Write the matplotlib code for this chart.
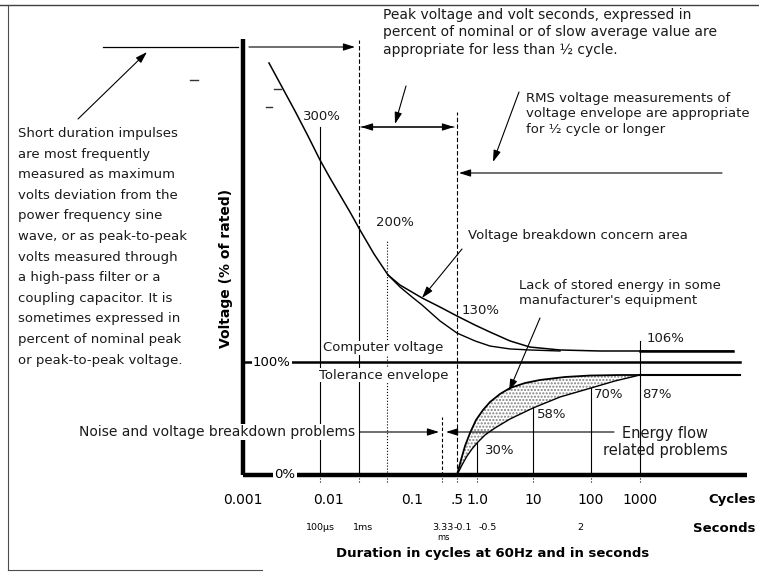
import numpy as np
import matplotlib
matplotlib.use('Agg')
import matplotlib.pyplot as plt

# ---------------- data (duration in cycles, voltage in % of rated) ----------------
cycle_ticks = [0.001, 0.01, 0.1, 0.5, 1, 10, 100, 1000]
cycle_labels = ['0.001', '0.01', '0.1', '.5', '1.0', '10', '100', '1000']
second_labels = ['100µs', '1ms', '3.33', '-0.1', '-0.5', '2']

# over-voltage curve (common part), then its two branches
over_x = [0.002022, 0.002876, 0.004090, 0.005816, 0.008049, 0.010564, 0.013895,
          0.018273, 0.024044, 0.035277, 0.051795]
over_y = [461.7, 421.7, 381.7, 340, 300, 274.3, 250, 225.7, 200, 180.5, 163.4]
over_hi_x = [0.051795, 0.071969, 0.14294, 0.27218, 0.5, 0.93303, 1.7066, 3.8855,
             8.8402, 29.212, 152.68, 1000, 36250]
over_hi_y = [163.4, 155.2, 144.7, 137.3, 130, 123.8, 119.0, 112.9, 108.7, 106.7,
             106, 106, 106]
over_lo_x = [0.051795, 0.071969, 0.1, 0.14294, 0.27218, 0.5, 0.93303, 1.7066,
             3.8855, 8.8402, 29.212]
over_lo_y = [163.4, 153.6, 145.5, 139.0, 126.6, 118.3, 112.9, 109.4, 107.4, 106.7, 106]

# under-voltage (energy) curves
under_hi_x = [0.5, 0.57434, 0.65975, 0.78464, 0.96593, 1.2799, 1.7066, 2.5750,
              3.8855, 7.1969, 13.204, 35.622, 96.108, 390.8, 1000]
under_hi_y = [0, 14.1, 27.2, 38, 48.4, 56.4, 61.6, 66.4, 70, 76.5, 80.5, 84.4,
              86.3, 87, 87]
under_lo_x = [0.5, 0.59462, 0.70711, 0.84090, 1, 1.3895, 2.0961, 3.8855, 10,
              29.212, 100, 308.9, 1000]
under_lo_y = [0, 9.4, 17.8, 24.4, 30, 36.4, 42, 49.2, 58, 64.6, 70, 79.2, 87]

# reference levels
nominal_pct = 100
upper_pct = 106
lower_pct = 87

# vertical marker lines: duration (cycles) and top (%)
marker_x = [0.008, 0.0234, 0.0504, 0.292, 0.5, 1, 10, 100, 1000]
marker_top = [355, 500, 191, 51, 380, 30, 58, 70, 113]

pct_labels = ['300%', '200%', '130%', '106%', '87%', '70%', '58%', '30%']

# ---------------- layout ----------------
W, H = 759, 572
fig = plt.figure(figsize=(W / 100, H / 100), dpi=100)
fig.patch.set_facecolor('white')
ax = fig.add_axes([0, 0, 1, 1])

# schematic (not-to-scale) axis mapping used by the original figure
X_LOG = np.array([-6, -3, -2, -1, np.log10(0.5), 0, 1, 2, 3, 4, 5])
X_PX = np.array([0, 243, 328, 412, 457, 477, 533, 591, 640, 700, 759], float)
Y_PCT = np.array([-100, 0, 30, 58, 70, 87, 100, 106, 130, 200, 300, 500, 700], float)
Y_PX = np.array([572, 475, 443, 408, 388, 375, 362, 351, 316, 230, 160, 40, 0], float)


def x_fwd(v):
    v = np.asarray(v, float)
    return np.interp(np.log10(np.clip(v, 1e-12, None)), X_LOG, X_PX)


def x_inv(p):
    return 10 ** np.interp(np.asarray(p, float), X_PX, X_LOG)


def y_fwd(v):
    return H - np.interp(np.asarray(v, float), Y_PCT, Y_PX)


def y_inv(p):
    return np.interp(H - np.asarray(p, float), Y_PX[::-1], Y_PCT[::-1])


ax.set_xscale('function', functions=(x_fwd, x_inv))
ax.set_yscale('function', functions=(y_fwd, y_inv))
ax.set_xlim(1e-6, 1e5)
ax.set_ylim(-100, 700)
ax.axis('off')

K = 'black'
# hatched "lack of stored energy" band
ax.fill(np.r_[under_hi_x, under_lo_x[::-1]], np.r_[under_hi_y, under_lo_y[::-1]],
        facecolor='none', edgecolor='0.5', hatch='.....', lw=0)

# vertical markers
styles = ['-', '-', ':', (0, (3, 2)), (0, (4, 2)), '-', '-', '-', '-']
for xv, top, st in zip(marker_x, marker_top, styles):
    if xv == 0.0234:
        ax.plot([xv, xv], [200, top], color=K, lw=0.8, ls=(0, (4, 2)))
        ax.plot([xv, xv], [0, 200], color=K, lw=0.8)
    else:
        ax.plot([xv, xv], [0, top], color=K, lw=0.8, ls=st)
    ax.plot([xv, xv], [0, -8], color=K, lw=0.8, ls=':')

# curves
ax.plot(over_x, over_y, color=K, lw=1.1)
ax.plot(over_hi_x, over_hi_y, color=K, lw=1.1)
ax.plot([1000, 36250], [upper_pct, upper_pct], color=K, lw=1.8)
ax.plot(over_lo_x, over_lo_y, color=K, lw=1.0)
ax.plot(under_hi_x, under_hi_y, color=K, lw=1.3)
ax.plot(under_lo_x, under_lo_y, color=K, lw=1.0)
ax.plot([1000, 47700], [lower_pct, lower_pct], color=K, lw=1.5)
ax.plot([0.001, 47700], [nominal_pct, nominal_pct], color=K, lw=1.8)
ax.plot([0.001, 62700], [0, 0], color=K, lw=3.2, solid_capstyle='butt')
ax.plot([0.001, 0.001], [0, 505], color=K, lw=3.2, solid_capstyle='butt')

# cycle tick labels
for c, lab in zip(cycle_ticks, cycle_labels):
    ax.text(c, -26, lab, ha='center', va='center', fontsize=10)

# ---------------- overlay in pixel space for annotations ----------------
ov = fig.add_axes([0, 0, 1, 1])
ov.set_xlim(0, W)
ov.set_ylim(H, 0)
ov.axis('off')
ov.patch.set_alpha(0)

FS = 9.5
TC = '0.1'
WB = dict(facecolor='white', edgecolor='none', pad=1.0)
AP = dict(arrowstyle='-|>,head_length=0.7,head_width=0.22', color=K, lw=0.8,
          shrinkA=0, shrinkB=0)

# frame
ov.plot([0, W], [5, 5], color='0.25', lw=1.0)
ov.plot([8, 8], [5, 570], color='0.3', lw=0.8)
ov.plot([8, 262], [570, 570], color='0.3', lw=0.8)

# small stray marks of the original print
for (x0, x1, yy) in [(190, 198, 80), (274, 281, 89), (266, 272, 107)]:
    ov.plot([x0, x1], [yy, yy], color='0.2', lw=1.0)

ov.text(18, 127, 'Short duration impulses\nare most frequently\nmeasured as maximum\n'
        'volts deviation from the\npower frequency sine\nwave, or as peak-to-peak\n'
        'volts measured through\na high-pass filter or a\ncoupling capacitor. It is\n'
        'sometimes expressed in\npercent of nominal peak\nor peak-to-peak voltage.',
        fontsize=FS, va='top', ha='left', linespacing=1.76, color=TC)

ov.text(383, 8, 'Peak voltage and volt seconds, expressed in\n'
        'percent of nominal or of slow average value are\n'
        'appropriate for less than ½ cycle.',
        fontsize=10.0, va='top', ha='left', linespacing=1.3, color=TC)

ov.text(526, 92, 'RMS voltage measurements of\nvoltage envelope are appropriate\n'
        'for ½ cycle or longer', fontsize=FS, va='top', ha='left',
        linespacing=1.25, color=TC)

ov.text(468, 236, 'Voltage breakdown concern area', fontsize=FS, va='center',
        ha='left', color=TC)
ov.text(519, 279, "Lack of stored energy in some\nmanufacturer's equipment",
        fontsize=FS, va='top', ha='left', linespacing=1.2, color=TC)
ov.text(355, 432, 'Noise and voltage breakdown problems', fontsize=10,
        va='center', ha='right', color=TC, bbox=WB)
ov.text(665, 442, 'Energy flow\nrelated problems', fontsize=10.5, va='center',
        ha='center', linespacing=1.15, color=TC)
ov.text(383, 348, 'Computer voltage', fontsize=FS, va='center', ha='center',
        color=TC, bbox=dict(facecolor='white', edgecolor='none', pad=0.5))
ov.text(384, 375, 'Tolerance envelope', fontsize=FS, va='center', ha='center',
        color=TC, bbox=dict(facecolor='white', edgecolor='none', pad=0.5))
ov.text(272, 362, '100%', fontsize=FS, va='center', ha='center', bbox=WB)
ov.text(285, 475, '0%', fontsize=FS, va='center', ha='center', bbox=WB)

pct_pos = [(322, 116), (395, 222), (481, 311), (665, 339), (657, 394),
           (609, 395), (552, 415), (500, 450)]
for lab, (px_, py_) in zip(pct_labels, pct_pos):
    ov.text(px_, py_, lab, fontsize=FS, ha='center', va='center', color=TC)

ov.text(226, 268, 'Voltage (% of rated)', rotation=90, fontsize=10,
        fontweight='bold', ha='center', va='center')
ov.text(756, 500, 'Cycles', fontsize=9.5, fontweight='bold', ha='right', va='center')
ov.text(756, 528, 'Seconds', fontsize=9.5, fontweight='bold', ha='right', va='center')
ov.text(493, 553, 'Duration in cycles at 60Hz and in seconds', fontsize=9.5,
        fontweight='bold', ha='center', va='center')

sec_pos = [320, 363, 443, 463, 488, 580]
for lab, sx in zip(second_labels, sec_pos):
    ov.text(sx, 527, lab, fontsize=6.8, ha='center', va='center')
ov.text(444, 537, 'ms', fontsize=6, ha='center', va='center')

# arrows
ov.plot([103, 238], [47, 47], color=K, lw=0.9)
ov.annotate('', xy=(355, 47), xytext=(249, 47), arrowprops=AP)
ov.annotate('', xy=(147, 52), xytext=(78, 119), arrowprops=AP)
ov.annotate('', xy=(361, 127), xytext=(454, 127), arrowprops=AP)
ov.annotate('', xy=(454, 127), xytext=(361, 127), arrowprops=AP)
ov.annotate('', xy=(395, 124), xytext=(406, 86), arrowprops=AP)
ov.annotate('', xy=(459, 173), xytext=(722, 173), arrowprops=AP)
ov.annotate('', xy=(493, 162), xytext=(519, 92), arrowprops=AP)
ov.annotate('', xy=(422, 298), xytext=(462, 249), arrowprops=AP)
ov.annotate('', xy=(509, 391), xytext=(540, 318), arrowprops=AP)
ov.annotate('', xy=(439, 432), xytext=(360, 432), arrowprops=AP)
ov.annotate('', xy=(446, 432), xytext=(614, 432), arrowprops=AP)

fig.savefig('out.png', dpi=100, facecolor='white')
